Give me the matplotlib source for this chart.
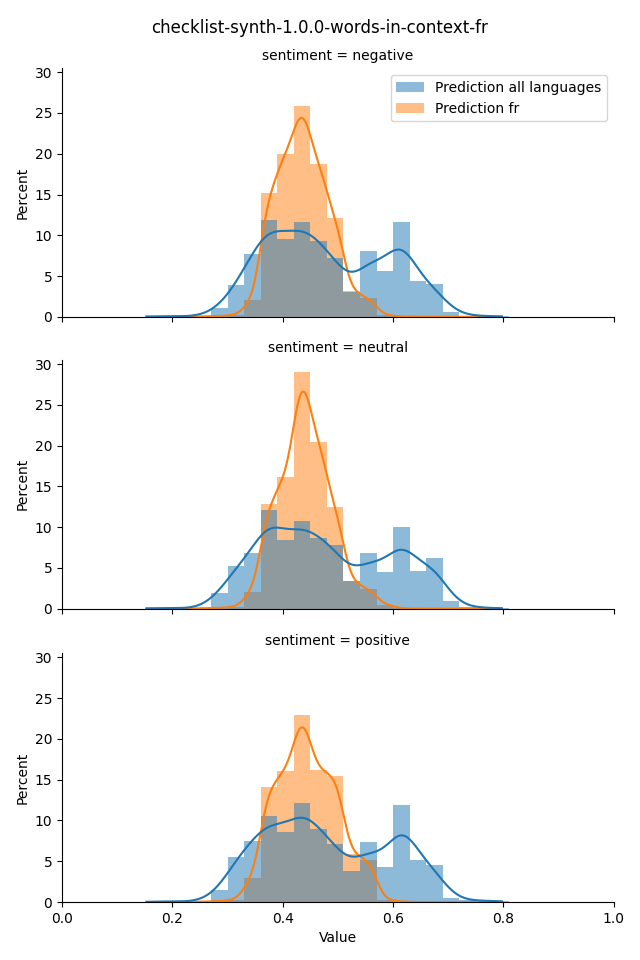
import math
import numpy as np
import matplotlib
matplotlib.use("Agg")
import matplotlib.pyplot as plt
from matplotlib.patches import Patch

# bins of width 0.03 starting at the data minimum
bin_start = 0.15
bin_width = 0.03
data_min, data_max = 0.153, 0.797

sentiments = ["negative", "neutral", "positive"]
series_names = ["Prediction all languages", "Prediction fr"]

# percent per bin (22 bins from 0.15 to 0.81)
neg_all = [0.05, 0.05, 0.05, 0.1, 1.1, 3.95, 7.75, 11.9, 9.6, 11.6, 9.3,
           7.25, 3.1, 8.1, 5.6, 11.65, 4.45, 4.05, 0.65, 0.15, 0.1, 0.05]
neg_fr = [0, 0, 0, 0.05, 0.1, 0.2, 2.0, 15.2, 20.0, 25.9, 18.75,
          12.15, 3.2, 2.3, 0.2, 0.05, 0, 0, 0, 0, 0, 0]
neu_all = [0.05, 0.05, 0.05, 0.1, 1.9, 5.25, 6.8, 12.1, 8.45, 10.8, 8.65,
           7.8, 3.35, 6.8, 4.5, 10.0, 4.65, 6.25, 0.98, 0.2, 0.1, 0.05]
neu_fr = [0, 0, 0, 0.05, 0.1, 0.2, 2.1, 12.85, 16.15, 29.05, 20.4,
          12.45, 3.35, 2.45, 0.5, 0.05, 0, 0, 0, 0, 0, 0]
pos_all = [0.05, 0.05, 0.05, 0.1, 1.45, 5.5, 7.45, 10.5, 8.6, 12.1, 9.0,
           7.1, 3.75, 7.4, 4.25, 11.95, 5.2, 4.6, 0.5, 0.2, 0.15, 0.1]
pos_fr = [0, 0, 0, 0.05, 0.1, 0.3, 3.0, 14.05, 16.1, 23.0, 16.25,
          15.5, 5.95, 5.2, 0.3, 0.05, 0, 0, 0, 0, 0, 0]

panels = [(neg_all, neg_fr), (neu_all, neu_fr), (pos_all, pos_fr)]
colors = ["#1f77b4", "#ff7f0e"]
bandwidths = [0.024, 0.0125]

erf = np.vectorize(math.erf)


def smooth(heights, h, x):
    # gaussian smoothing of the histogram, keeps the percent scale of the bars
    heights = np.asarray(heights, dtype=float)
    left = bin_start + bin_width * np.arange(len(heights))
    right = left + bin_width
    cdf = lambda z: 0.5 * (1 + erf(z / np.sqrt(2)))
    y = np.zeros_like(x)
    for p, a, b in zip(heights, left, right):
        if p > 0:
            y += p * (cdf((x - a) / h) - cdf((x - b) / h))
    return y


fig = plt.figure(figsize=(6.4, 9.6), dpi=100)
fig.suptitle("checklist-synth-1.0.0-words-in-context-fr", y=0.98, fontsize=12)

boxes = [(0.097, 0.670, 0.862, 0.259),
         (0.097, 0.366, 0.862, 0.259),
         (0.097, 0.0604, 0.862, 0.259)]

x = np.linspace(data_min, data_max, 300)
axes = []
for i, (sent, data) in enumerate(zip(sentiments, panels)):
    ax = fig.add_axes(boxes[i], sharex=axes[0] if axes else None,
                      sharey=axes[0] if axes else None)
    axes.append(ax)
    # seaborn layers the hue levels in reverse, so "fr" goes underneath
    for heights, c in reversed(list(zip(data, colors))):
        lefts = bin_start + bin_width * np.arange(len(heights))
        ax.bar(lefts, heights, width=bin_width, align="edge", color=c,
               alpha=0.5, linewidth=0)
    for heights, c, h in reversed(list(zip(data, colors, bandwidths))):
        ax.plot(x, smooth(heights, h, x), color=c, lw=1.5)
    ax.set_title(f"sentiment = {sent}", fontsize=10)
    ax.set_ylabel("Percent")
    ax.spines["top"].set_visible(False)
    ax.spines["right"].set_visible(False)
    ax.set_yticks([0, 5, 10, 15, 20, 25, 30])
    if i < 2:
        ax.tick_params(labelbottom=False)

axes[0].set_xlim(0, 1)
axes[0].set_ylim(0, 30.5)
axes[-1].set_xlabel("Value")

handles = [Patch(facecolor=c, alpha=0.5, linewidth=0) for c in colors]
axes[0].legend(handles, series_names, loc="upper right")

fig.savefig("out.png", dpi=100)
